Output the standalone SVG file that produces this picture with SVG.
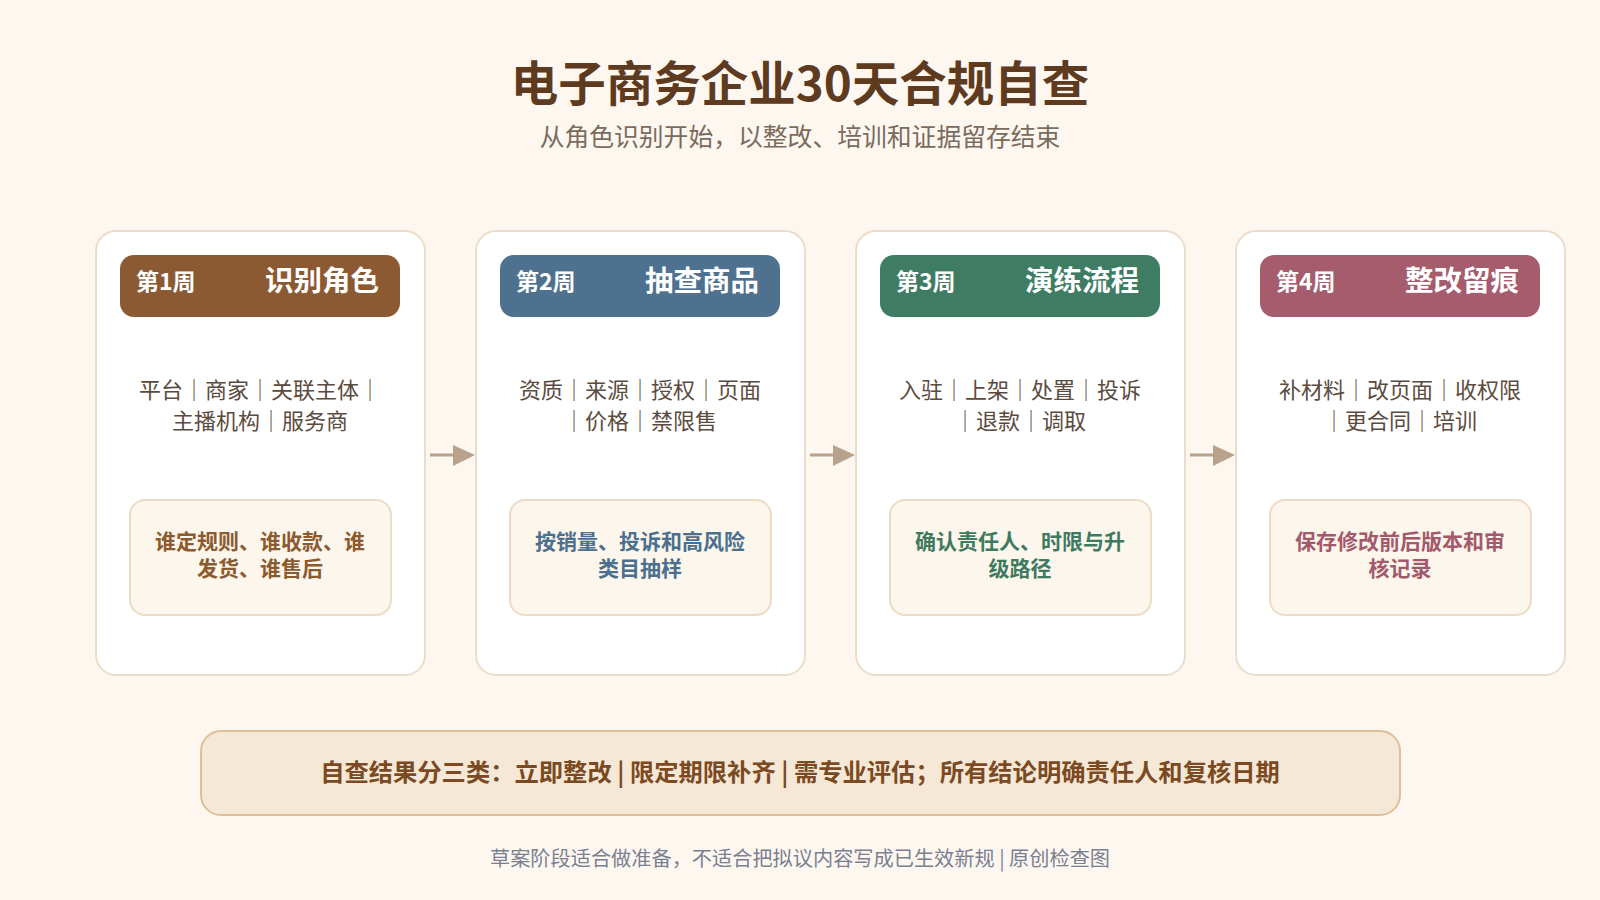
<svg xmlns="http://www.w3.org/2000/svg" width="1600" height="900" viewBox="0 0 1600 900">
  <defs>
    <style>
      text { font-family: "Noto Sans CJK SC", "Noto Sans", sans-serif; }
      .title { font-size: 47.5px; font-weight: 700; fill: #5e3b1f; text-anchor: middle; }
      .subtitle { font-size: 24.8px; fill: #7a6b5d; text-anchor: middle; }
      .card { fill: #ffffff; stroke: #ecdccb; stroke-width: 2; }
      .week { font-size: 23px; font-weight: 700; fill: #ffffff; }
      .head { font-size: 28.5px; font-weight: 700; fill: #ffffff; text-anchor: end; }
      .body { font-size: 22px; fill: #5b4b3e; text-anchor: middle; }
      .box { fill: #fdf6ec; stroke: #ecdcc6; stroke-width: 2; }
      .boxt { font-size: 21px; font-weight: 700; text-anchor: middle; }
      .conn { stroke: #b9a28c; stroke-width: 3; fill: none; }
      .banner { fill: #f5e8d7; stroke: #dfbf96; stroke-width: 2; }
      .bannert { font-size: 24.3px; font-weight: 700; fill: #7b4a22; text-anchor: middle; }
      .foot { font-size: 20.2px; fill: #7a8090; text-anchor: middle; }
    </style>
  </defs>
  <rect x="0" y="0" width="1600" height="900" fill="#fdf7f0"/>

  <text class="title" x="800" y="101">电子商务企业30天合规自查</text>
  <text class="subtitle" x="800" y="146">从角色识别开始，以整改、培训和证据留存结束</text>

  <g id="connectors">
    <line class="conn" x1="430" y1="455" x2="455" y2="455"/>
    <path d="M453,445 L475,455 L453,466 Z" fill="#b9a28c"/>
    <line class="conn" x1="810" y1="455" x2="835" y2="455"/>
    <path d="M833,445 L855,455 L833,466 Z" fill="#b9a28c"/>
    <line class="conn" x1="1190" y1="455" x2="1215" y2="455"/>
    <path d="M1213,445 L1235,455 L1213,466 Z" fill="#b9a28c"/>
  </g>

  <g id="week1">
    <rect class="card" x="96" y="231" width="329" height="444" rx="20"/>
    <rect x="120" y="255" width="280" height="62" rx="14" fill="#8b5a32"/>
    <text class="week" x="136" y="290">第1周</text>
    <text class="head" x="379" y="291">识别角色</text>
    <text class="body" x="260" y="398">平台｜商家｜关联主体｜</text>
    <text class="body" x="260" y="429">主播机构｜服务商</text>
    <rect class="box" x="130" y="500" width="261" height="115" rx="15"/>
    <text class="boxt" x="260" y="549" fill="#8b5a2e">谁定规则、谁收款、谁</text>
    <text class="boxt" x="260" y="576" fill="#8b5a2e">发货、谁售后</text>
  </g>

  <g id="week2">
    <rect class="card" x="476" y="231" width="329" height="444" rx="20"/>
    <rect x="500" y="255" width="280" height="62" rx="14" fill="#4e7190"/>
    <text class="week" x="516" y="290">第2周</text>
    <text class="head" x="759" y="291">抽查商品</text>
    <text class="body" x="640" y="398">资质｜来源｜授权｜页面</text>
    <text class="body" x="640" y="429">｜价格｜禁限售</text>
    <rect class="box" x="510" y="500" width="261" height="115" rx="15"/>
    <text class="boxt" x="640" y="549" fill="#4b6f8e">按销量、投诉和高风险</text>
    <text class="boxt" x="640" y="576" fill="#4b6f8e">类目抽样</text>
  </g>

  <g id="week3">
    <rect class="card" x="856" y="231" width="329" height="444" rx="20"/>
    <rect x="880" y="255" width="280" height="62" rx="14" fill="#3f7c64"/>
    <text class="week" x="896" y="290">第3周</text>
    <text class="head" x="1139" y="291">演练流程</text>
    <text class="body" x="1020" y="398">入驻｜上架｜处置｜投诉</text>
    <text class="body" x="1020" y="429">｜退款｜调取</text>
    <rect class="box" x="890" y="500" width="261" height="115" rx="15"/>
    <text class="boxt" x="1020" y="549" fill="#3f7a60">确认责任人、时限与升</text>
    <text class="boxt" x="1020" y="576" fill="#3f7a60">级路径</text>
  </g>

  <g id="week4">
    <rect class="card" x="1236" y="231" width="329" height="444" rx="20"/>
    <rect x="1260" y="255" width="280" height="62" rx="14" fill="#a55c6d"/>
    <text class="week" x="1276" y="290">第4周</text>
    <text class="head" x="1519" y="291">整改留痕</text>
    <text class="body" x="1400" y="398">补材料｜改页面｜收权限</text>
    <text class="body" x="1400" y="429">｜更合同｜培训</text>
    <rect class="box" x="1270" y="500" width="261" height="115" rx="15"/>
    <text class="boxt" x="1400" y="549" fill="#a3596b">保存修改前后版本和审</text>
    <text class="boxt" x="1400" y="576" fill="#a3596b">核记录</text>
  </g>

  <g id="summary">
    <rect class="banner" x="201" y="731" width="1199" height="84" rx="20"/>
    <text class="bannert" x="800" y="781">自查结果分三类：立即整改 | 限定期限补齐 | 需专业评估；所有结论明确责任人和复核日期</text>
  </g>

  <text class="foot" x="800" y="866">草案阶段适合做准备，不适合把拟议内容写成已生效新规 | 原创检查图</text>
</svg>
